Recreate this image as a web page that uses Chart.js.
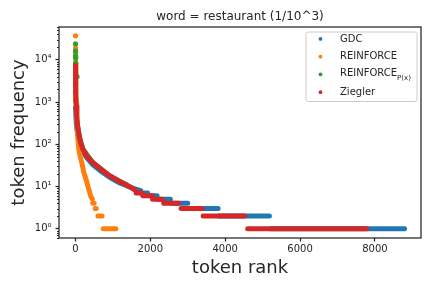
<!DOCTYPE html>
<html>
<head>
<meta charset="utf-8">
<script src="https://cdn.jsdelivr.net/npm/chart.js@4.4.1/dist/chart.umd.min.js"></script>
<style>
    html, body { margin: 0; padding: 0; background: #ffffff; }
</style>
</head>
<body>
<canvas id="rankChart" width="432" height="288"></canvas>
<script>
// Series names and colours (legend order)
const seriesLabels = ['GDC', 'REINFORCE', 'REINFORCE', 'Ziegler'];
const seriesSubscripts = ['', '', 'P(x)', ''];
const seriesColors = ['#1f77b4', '#ff7f0e', '#2ca02c', '#d62728'];

// Axis ticks
const xTicks = [0, 2000, 4000, 6000, 8000];
const yTicks = [1, 10, 100, 1000, 10000];

// GDC: top ranks as dots, then the decaying curve, then flat runs at low counts
const gdcHeadRank = [1, 2, 3, 4, 6];
const gdcHeadFreq = [4500, 2600, 1700, 1100, 730];
const gdcRank = [6, 10, 20, 40, 70, 110, 200, 300, 460, 650, 910, 1150, 1355, 1550, 1740];
const gdcFreq = [730, 500, 330, 220, 160, 120, 68, 48, 33, 24, 16.5, 12.5, 10.5, 9, 8];
const gdcRunFreq = [7, 6, 5, 4, 3, 2, 1];
const gdcRunStart = [1760, 1950, 2200, 2555, 3020, 3830, 5200];
const gdcRunEnd = [1930, 2180, 2535, 3000, 3810, 5180, 8790];

// REINFORCE
const reinforceHeadRank = [1, 2, 3];
const reinforceHeadFreq = [37000, 19000, 15000];
const reinforceRank = [4, 6, 10, 20, 35, 60, 90, 130, 170, 220, 285, 340, 410, 450];
const reinforceFreq = [9000, 5000, 2300, 900, 400, 150, 74, 50, 36, 22, 14.5, 9.5, 5.8, 5];
const reinforceRunFreq = [4, 3, 2, 1];
const reinforceRunStart = [460, 525, 600, 740];
const reinforceRunEnd = [500, 556, 710, 1080];

// REINFORCE_P(x)
const reinforcePxHeadRank = [1, 2, 3, 4, 5, 6, 40];
const reinforcePxHeadFreq = [24000, 16000, 12500, 11500, 11000, 8300, 4000];
const reinforcePxRank = [60, 107, 200, 460, 910, 1355];
const reinforcePxFreq = [260, 145, 76, 37, 18, 11];
const reinforcePxRunFreq = [];
const reinforcePxRunStart = [];
const reinforcePxRunEnd = [];

// Ziegler
const zieglerHeadRank = [1];
const zieglerHeadFreq = [7200];
const zieglerRank = [1, 3, 6, 10, 20, 35, 60, 107, 150, 200, 300, 460, 650, 910, 1150, 1355, 1480, 1600];
const zieglerFreq = [7200, 4500, 2500, 1500, 800, 450, 260, 145, 100, 76, 53, 37, 27, 18, 13.5, 11, 9.5, 8];
const zieglerRunFreq = [7, 6, 5, 4, 3, 2, 1];
const zieglerRunStart = [1620, 1800, 2060, 2357, 2820, 3410, 4600];
const zieglerRunEnd = [1780, 2045, 2315, 2760, 3385, 4515, 7780];

const textColor = '#262626';
const fontFamily = "'DejaVu Sans', sans-serif";

// Join curve points and flat runs into one line, breaking between runs
function bodyPoints(ranks, freqs, runFreq, runStart, runEnd) {
    const pts = ranks.map((r, i) => ({ x: r, y: freqs[i] }));
    runFreq.forEach((f, i) => {
        pts.push({ x: runStart[i], y: null });
        pts.push({ x: runStart[i], y: f });
        pts.push({ x: runEnd[i], y: f });
    });
    return pts;
}

function headPoints(ranks, freqs) {
    return ranks.map((r, i) => ({ x: r, y: freqs[i] }));
}

const series = [
    [gdcHeadRank, gdcHeadFreq, gdcRank, gdcFreq, gdcRunFreq, gdcRunStart, gdcRunEnd],
    [reinforceHeadRank, reinforceHeadFreq, reinforceRank, reinforceFreq, reinforceRunFreq, reinforceRunStart, reinforceRunEnd],
    [reinforcePxHeadRank, reinforcePxHeadFreq, reinforcePxRank, reinforcePxFreq, reinforcePxRunFreq, reinforcePxRunStart, reinforcePxRunEnd],
    [zieglerHeadRank, zieglerHeadFreq, zieglerRank, zieglerFreq, zieglerRunFreq, zieglerRunStart, zieglerRunEnd]
];

const datasets = [];
series.forEach((s, i) => {
    datasets.push({
        label: seriesLabels[i],
        data: bodyPoints(s[2], s[3], s[4], s[5], s[6]),
        showLine: true,
        spanGaps: false,
        borderColor: seriesColors[i],
        borderWidth: 5,
        borderCapStyle: 'round',
        borderJoinStyle: 'round',
        pointRadius: 0,
        tension: 0
    });
    datasets.push({
        label: seriesLabels[i],
        data: headPoints(s[0], s[1]),
        showLine: false,
        pointRadius: 2.6,
        pointBorderWidth: 0,
        pointBackgroundColor: seriesColors[i],
        backgroundColor: seriesColors[i]
    });
});
// later series are drawn on top, like matplotlib
datasets.forEach((d, i) => { d.order = datasets.length - i; });

const supDigits = { '0': '\u2070', '1': '\u00b9', '2': '\u00b2', '3': '\u00b3', '4': '\u2074' };

// Title, axis labels, frame, minor ticks and the boxed legend
const decorPlugin = {
    id: 'decor',
    afterDatasetsDraw(chart) {
        const { ctx, chartArea: a } = chart;
        const yScale = chart.scales.y;
        ctx.save();
        ctx.strokeStyle = textColor;
        ctx.lineWidth = 1.25;
        ctx.strokeRect(a.left, a.top, a.right - a.left, a.bottom - a.top);
        // minor ticks on the log axis
        ctx.lineWidth = 1;
        for (let e = -1; e <= 4; e++) {
            for (let m = 2; m <= 9; m++) {
                const v = m * Math.pow(10, e);
                if (v < yScale.min || v > yScale.max) continue;
                const py = Math.round(yScale.getPixelForValue(v)) + 0.5;
                ctx.beginPath();
                ctx.moveTo(a.left, py);
                ctx.lineTo(a.left - 2, py);
                ctx.stroke();
            }
        }
        ctx.restore();
    },
    afterDraw(chart) {
        const { ctx, chartArea: a } = chart;
        const cx = (a.left + a.right) / 2;
        ctx.save();
        ctx.fillStyle = textColor;
        ctx.textAlign = 'center';
        ctx.textBaseline = 'alphabetic';
        ctx.font = '12px ' + fontFamily;
        ctx.fillText('word = restaurant (1/10^3)', cx, 20);
        ctx.font = '18px ' + fontFamily;
        ctx.fillText('token rank', cx, 273);
        ctx.save();
        ctx.translate(23.5, (a.top + a.bottom) / 2);
        ctx.rotate(-Math.PI / 2);
        ctx.fillText('token frequency', 0, 0);
        ctx.restore();

        // legend box in the upper right corner of the plot
        const w = 111, h = 69.5;
        const x0 = a.right - 4.5 - w, y0 = a.top + 4.5;
        ctx.beginPath();
        if (ctx.roundRect) ctx.roundRect(x0 + 0.5, y0 + 0.5, w, h, 2.5);
        else ctx.rect(x0 + 0.5, y0 + 0.5, w, h);
        ctx.fillStyle = 'rgba(255,255,255,0.8)';
        ctx.fill();
        ctx.strokeStyle = '#cccccc';
        ctx.lineWidth = 1;
        ctx.stroke();

        ctx.textAlign = 'left';
        seriesLabels.forEach((label, i) => {
            const my = y0 + 7.4 + i * 17.75;
            ctx.beginPath();
            ctx.arc(x0 + 15, my, 1.9, 0, Math.PI * 2);
            ctx.fillStyle = seriesColors[i];
            ctx.fill();
            ctx.fillStyle = textColor;
            ctx.font = '10px ' + fontFamily;
            const base = my + (seriesSubscripts[i] ? 1.2 : 2.6);
            ctx.fillText(label, x0 + 34.5, base);
            if (seriesSubscripts[i]) {
                const tw = ctx.measureText(label).width;
                ctx.font = '7px ' + fontFamily;
                ctx.fillText(seriesSubscripts[i], x0 + 34.5 + tw, base + 4.6);
            }
        });
        ctx.restore();
    }
};

const chart = new Chart(document.getElementById('rankChart').getContext('2d'), {
    type: 'scatter',
    data: { datasets: datasets },
    options: {
        responsive: false,
        animation: false,
        devicePixelRatio: 1,
        events: [],
        layout: { padding: { left: 0, top: 27, right: 11, bottom: 0 } },
        plugins: {
            legend: { display: false },
            tooltip: { enabled: false },
            title: { display: false }
        },
        scales: {
            x: {
                type: 'linear',
                min: -440,
                max: 9230,
                afterBuildTicks: scale => { scale.ticks = xTicks.map(v => ({ value: v })); },
                afterFit: scale => { scale.height = 50; },
                border: { display: false },
                grid: {
                    drawOnChartArea: false,
                    drawTicks: true,
                    tickLength: 3.5,
                    tickWidth: 1.25,
                    tickColor: textColor
                },
                ticks: {
                    color: textColor,
                    font: { family: fontFamily, size: 10 },
                    padding: 2,
                    maxRotation: 0,
                    autoSkip: false,
                    callback: v => String(v)
                }
            },
            y: {
                type: 'logarithmic',
                min: 0.6,
                max: 60000,
                afterBuildTicks: scale => { scale.ticks = yTicks.map(v => ({ value: v })); },
                afterFit: scale => { scale.width = 59; },
                border: { display: false },
                grid: {
                    drawOnChartArea: false,
                    drawTicks: true,
                    tickLength: 3.5,
                    tickWidth: 1.25,
                    tickColor: textColor
                },
                ticks: {
                    color: textColor,
                    font: { family: fontFamily, size: 10 },
                    padding: 4,
                    autoSkip: false,
                    callback: v => '10' + supDigits[String(Math.round(Math.log10(v)))]
                }
            }
        }
    },
    plugins: [decorPlugin]
});
</script>
</body>
</html>
